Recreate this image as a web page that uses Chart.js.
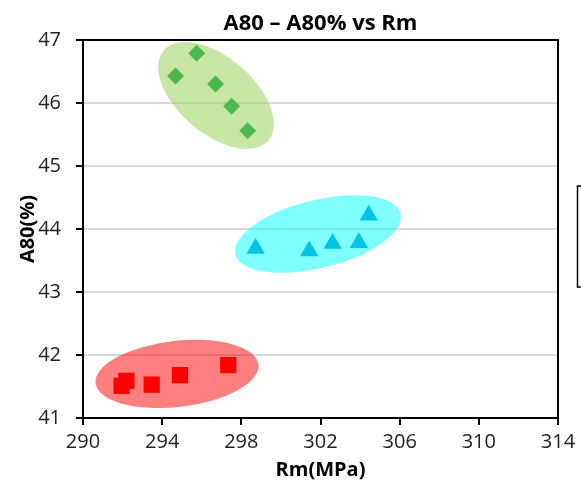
<!DOCTYPE html>
<html>
<head>
<meta charset="utf-8">
<script src="https://cdn.jsdelivr.net/npm/chart.js@4.4.0/dist/chart.umd.min.js"></script>
<style>
  html, body { margin: 0; padding: 0; background: #fff; }
  #wrap { width: 581px; height: 484px; }
</style>
</head>
<body>
<div id="wrap"><canvas id="rmChart" width="581" height="484"></canvas></div>
<script>
// values
const rmSquare = [291.95, 292.19, 293.47, 294.90, 297.34];
const a80Square = [41.51, 41.59, 41.53, 41.68, 41.84];

const rmTriangle = [298.72, 301.43, 302.61, 303.94, 304.44];
const a80Triangle = [43.69, 43.65, 43.77, 43.78, 44.22];

const rmDiamond = [295.74, 294.68, 296.70, 297.51, 298.32];
const a80Diamond = [46.79, 46.43, 46.30, 45.95, 45.56];

const xTicks = [290, 294, 298, 302, 306, 310, 314];
const yTicks = [41, 42, 43, 44, 45, 46, 47];

// shaded ellipses round each group (centre in data units, radii in px)
const groupEllipses = [
    { cx: 294.75, cy: 41.70, rx: 82, ry: 33, angle: -6.5, fill: 'rgba(255, 0, 0, 0.5)' },
    { cx: 301.87, cy: 43.92, rx: 85, ry: 34, angle: -13.9, fill: 'rgba(0, 255, 255, 0.5)' },
    { cx: 296.72, cy: 46.12, rx: 69, ry: 38, angle: 40.7, fill: 'rgba(146, 208, 80, 0.5)' }
];

const toPoints = (xs, ys) => xs.map((x, i) => ({ x: x, y: ys[i] }));

const ellipsePlugin = {
    id: 'ellipses',
    beforeDatasetsDraw(chart) {
        const ctx = chart.ctx;
        const xs = chart.scales.x, ys = chart.scales.y;
        ctx.save();
        groupEllipses.forEach(e => {
            ctx.beginPath();
            ctx.ellipse(xs.getPixelForValue(e.cx), ys.getPixelForValue(e.cy),
                e.rx, e.ry, e.angle * Math.PI / 180, 0, Math.PI * 2);
            ctx.fillStyle = e.fill;
            ctx.fill();
        });
        // box round the plot area
        const a = chart.chartArea;
        ctx.strokeStyle = '#000';
        ctx.lineWidth = 2;
        ctx.strokeRect(a.left, a.top, a.right - a.left, a.bottom - a.top);
        ctx.restore();
    },
    afterDraw(chart) {
        const ctx = chart.ctx;
        const a = chart.chartArea;
        ctx.save();
        ctx.fillStyle = '#000';
        ctx.font = 'bold 22px "Open Sans"';
        ctx.textAlign = 'center';
        ctx.textBaseline = 'middle';
        ctx.fillText('A80 – A80% vs Rm', (a.left + a.right) / 2, 24);
        // legend box, mostly outside the picture
        ctx.strokeStyle = '#000';
        ctx.lineWidth = 1.5;
        ctx.strokeRect(577.5, 186, 30, 101);
        ctx.restore();
    }
};

const ctx = document.getElementById('rmChart').getContext('2d');
new Chart(ctx, {
    type: 'scatter',
    data: {
        datasets: [{
            label: 'Square',
            data: toPoints(rmSquare, a80Square),
            pointStyle: 'rect',
            pointRadius: 11.5,
            pointHoverRadius: 11.5,
            backgroundColor: '#ff0000',
            borderWidth: 0
        }, {
            label: 'Triangle',
            data: toPoints(rmTriangle, a80Triangle),
            pointStyle: 'triangle',
            pointRadius: 10.5,
            pointHoverRadius: 10.5,
            backgroundColor: '#00c4e6',
            borderWidth: 0
        }, {
            label: 'Diamond',
            data: toPoints(rmDiamond, a80Diamond),
            pointStyle: 'rectRot',
            pointRadius: 8.5,
            pointHoverRadius: 8.5,
            backgroundColor: '#4db84d',
            borderWidth: 0
        }]
    },
    options: {
        responsive: false,
        animation: false,
        layout: { padding: { top: 40, right: 23, left: 0, bottom: 0 } },
        plugins: {
            legend: { display: false },
            tooltip: { enabled: false },
            title: { display: false }
        },
        scales: {
            x: {
                type: 'linear',
                min: 290,
                max: 314,
                afterBuildTicks: axis => { axis.ticks = xTicks.map(v => ({ value: v })); },
                afterFit: axis => { axis.height = 66; },
                grid: { drawOnChartArea: false, tickColor: '#000', tickLength: 7, lineWidth: 2 },
                border: { color: '#000', width: 2 },
                ticks: { color: '#222', padding: 5, font: { family: 'Open Sans', size: 20 } },
                title: {
                    display: true,
                    text: 'Rm(MPa)',
                    color: '#000',
                    padding: { top: 0, bottom: 2 },
                    font: { family: 'Open Sans', size: 20, weight: 'bold' }
                }
            },
            y: {
                type: 'linear',
                min: 41,
                max: 47,
                afterBuildTicks: axis => { axis.ticks = yTicks.map(v => ({ value: v })); },
                afterFit: axis => { axis.width = 83; },
                grid: { color: '#d9d9d9', tickColor: '#000', tickLength: 7, lineWidth: 2 },
                border: { color: '#000', width: 2 },
                ticks: { color: '#222', padding: 15, font: { family: 'Open Sans', size: 20 } },
                title: {
                    display: true,
                    text: 'A80(%)',
                    color: '#000',
                    padding: { top: 16, bottom: 0 },
                    font: { family: 'Open Sans', size: 20, weight: 'bold' }
                }
            }
        }
    },
    plugins: [ellipsePlugin]
});
</script>
</body>
</html>
